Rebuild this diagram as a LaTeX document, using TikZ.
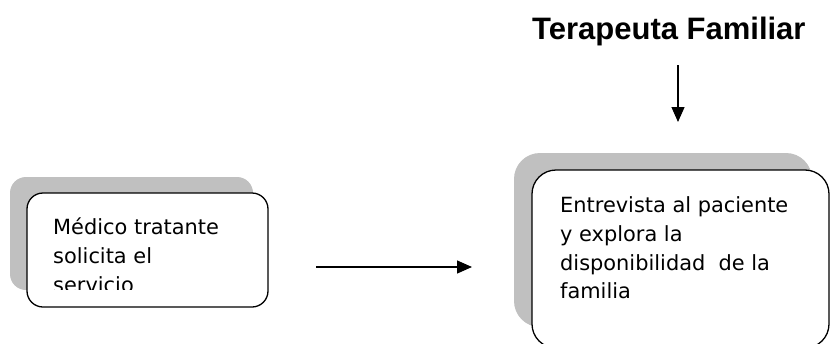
\documentclass[tikz,border=0pt]{standalone}
\usepackage{fontspec}
\usetikzlibrary{arrows.meta}
\newfontfamily\bodyfont{DejaVu Sans}
\newfontfamily\titlefont{Liberation Sans}
\definecolor{shadowgray}{HTML}{C0C0C0}
\tikzset{
  shadowbox/.style={fill=shadowgray, draw=none, rounded corners=#1, inner sep=0pt},
  whitebox/.style={fill=white, draw=black, line width=1.3pt, rounded corners=#1, inner sep=0pt},
  bodytext/.style={font=\bodyfont\fontsize{20.9}{28.7}\selectfont, anchor=base west, inner sep=0pt},
  arrowline/.style={line width=1.3pt, -{Triangle[length=15pt,width=13pt]}},
}
\begin{document}
\begin{tikzpicture}[x=1pt,y=-1pt]
\clip (0,0) rectangle (830,343);
\fill[white] (0,0) rectangle (830,343);
% title
\node[font=\titlefont\bfseries\fontsize{31}{36}\selectfont, anchor=base west, inner sep=0pt] (title) at (532,39) {Terapeuta Familiar};
% left box
\node[shadowbox=16pt, minimum width=243pt, minimum height=113pt] (lshadow) at (131.5,233.5) {};
\node[whitebox=16pt, minimum width=241pt, minimum height=114pt] (lbox) at (147.5,250) {};
\begin{scope}
\clip (27,193) rectangle (268,289);
\node[bodytext] (l1) at (53,234) {Médico tratante};
\node[bodytext] (l2) at (53,263) {solicita el};
\node[bodytext] (l3) at (53,292) {servicio};
\end{scope}
% right box
\node[shadowbox=26pt, minimum width=298pt, minimum height=174pt] (rshadow) at (663,240) {};
\node[whitebox=24pt, minimum width=297pt, minimum height=178pt] (rbox) at (680.5,259) {};
\node[bodytext] (r1) at (560,212) {Entrevista al paciente};
\node[bodytext] (r2) at (560,241) {y explora la};
\node[bodytext] (r3) at (560,270) {disponibilidad~ de la};
\node[bodytext] (r4) at (560,298) {familia};
% arrows
\coordinate (h1) at (316,267);
\coordinate (h2) at (472,267);
\draw[arrowline] (h1) -- (h2);
\coordinate (v1) at (678,65);
\coordinate (v2) at (678,122);
\draw[arrowline] (v1) -- (v2);
\end{tikzpicture}
\end{document}
